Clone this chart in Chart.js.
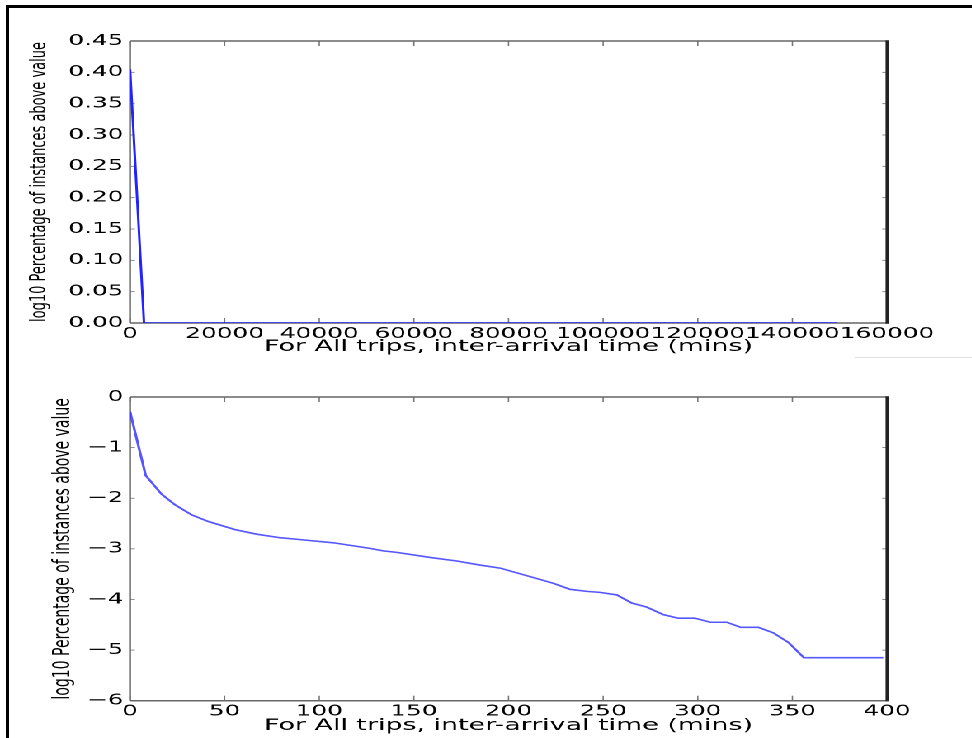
<!DOCTYPE html>
<html>
<head>
<meta charset="utf-8">
<title>Inter-arrival time</title>
<script src="https://cdn.jsdelivr.net/npm/chart.js@4/dist/chart.umd.min.js"></script>
<style>
  body { margin: 0; background: #fff; }
  #frame {
    position: absolute; left: 6px; top: 5px; width: 966px; height: 730px;
    border-top: 3px solid #000; border-left: 3px solid #000; border-bottom: 2px solid #444;
  }
  #sep { position: absolute; left: 855px; top: 357px; width: 117px; height: 1px; background: #e2e2e2; }
  /* the plots are laid out narrow and widened, which gives the broad lettering */
  #wide {
    position: absolute; left: 0; top: 0; width: 589px; height: 738px;
    transform: scaleX(1.65); transform-origin: 0 0;
  }
  #wide canvas { position: absolute; left: 0; }
</style>
</head>
<body>
<div id="frame"></div>
<div id="sep"></div>
<div id="wide">
  <canvas id="topChart" style="top:0"></canvas>
  <canvas id="bottomChart" style="top:360px"></canvas>
</div>
<script>
// full range of inter-arrival times
const topMins = [0, 2960, 149400];
const topLogPct = [0.405, 0, 0];
const topXTicks = [0, 20000, 40000, 60000, 80000, 100000, 120000, 140000, 160000];
const topYTicks = [0, 0.05, 0.10, 0.15, 0.20, 0.25, 0.30, 0.35, 0.40, 0.45];

// zoomed to the first 400 minutes
const bottomMins = [0, 8.3, 16.7, 23.8, 32.6, 41.4, 55.5, 66.9, 79.3, 90.7, 107.4, 126.8, 133.8,
  140.9, 158.5, 172.6, 184.9, 195.5, 207.8, 223.7, 232.5, 241.3, 248.3, 257.2, 265.1, 273,
  281.8, 289.7, 298.5, 306.5, 315.3, 322.7, 332, 339.9, 347.9, 356.1, 398];
const bottomLogPct = [-0.29, -1.55, -1.92, -2.13, -2.33, -2.46, -2.62, -2.71, -2.78, -2.82, -2.88, -2.99, -3.04,
  -3.07, -3.17, -3.24, -3.32, -3.38, -3.51, -3.68, -3.80, -3.84, -3.86, -3.91, -4.07, -4.15,
  -4.30, -4.37, -4.37, -4.45, -4.45, -4.55, -4.55, -4.66, -4.85, -5.15, -5.15];
const bottomXTicks = [0, 50, 100, 150, 200, 250, 300, 350, 400];
const bottomYTicks = [-6, -5, -4, -3, -2, -1, 0];

const xTitle = 'For All trips, inter-arrival time (mins)';
const yTitle = 'log10 Percentage of instances above value';

const FONT = "'DejaVu Sans', sans-serif";

// box round the plot area with inward ticks on every side
const spinePlugin = {
  id: 'spines',
  beforeDatasetsDraw(chart) {
    const {ctx, chartArea: a, scales: {x, y}} = chart;
    const seg = (x1, y1, x2, y2) => { ctx.beginPath(); ctx.moveTo(x1, y1); ctx.lineTo(x2, y2); ctx.stroke(); };
    ctx.save();
    ctx.strokeStyle = '#777';
    ctx.lineWidth = 0.8;
    x.ticks.forEach(t => {
      const px = x.getPixelForValue(t.value);
      seg(px, a.bottom, px, a.bottom - 5);
      seg(px, a.top, px, a.top + 5);
    });
    y.ticks.forEach(t => {
      const py = y.getPixelForValue(t.value);
      seg(a.left, py, a.left + 3, py);
      seg(a.right, py, a.right - 3, py);
    });
    ctx.strokeStyle = '#666';
    ctx.lineWidth = 1.5;
    seg(a.left, a.top, a.right, a.top);
    seg(a.left, a.bottom, a.right, a.bottom);
    ctx.lineWidth = 1.2;
    seg(a.left, a.top, a.left, a.bottom);
    ctx.strokeStyle = '#222';
    ctx.lineWidth = 1.8;
    seg(a.right, a.top - 0.7, a.right, a.bottom + 0.7);
    ctx.restore();
  }
};

function makeChart(id, cfg) {
  const canvas = document.getElementById(id);
  return new Chart(canvas.getContext('2d'), {
    type: 'line',
    data: {
      datasets: [{
        data: cfg.mins.map((m, i) => ({x: m, y: cfg.vals[i]})),
        borderColor: cfg.color,
        borderWidth: cfg.width,
        pointRadius: 0,
        tension: 0,
        fill: false
      }]
    },
    options: {
      responsive: false,
      animation: false,
      devicePixelRatio: 2,
      layout: {padding: {top: cfg.padTop, right: 51.4, left: 0, bottom: 0}},
      plugins: {legend: {display: false}, tooltip: {enabled: false}},
      scales: {
        x: {
          type: 'linear',
          min: cfg.xTicks[0],
          max: cfg.xTicks[cfg.xTicks.length - 1],
          afterBuildTicks: s => { s.ticks = cfg.xTicks.map(v => ({value: v})); },
          afterFit: s => { s.height = cfg.xHeight; },
          grid: {display: false, drawTicks: false},
          border: {display: false},
          ticks: {
            autoSkip: false, maxRotation: 0, minRotation: 0, padding: 2,
            color: '#000', font: {family: FONT, size: 15},
            callback: v => String(v)
          },
          title: {
            display: true, text: xTitle, color: '#000',
            font: {family: FONT, size: 16.3}, padding: {top: 0, bottom: cfg.xTitlePad}
          }
        },
        y: {
          min: cfg.yTicks[0],
          max: cfg.yTicks[cfg.yTicks.length - 1],
          afterBuildTicks: s => { s.ticks = cfg.yTicks.map(v => ({value: v})); },
          afterFit: s => { s.width = 78.8; },
          grid: {display: false, drawTicks: false},
          border: {display: false},
          ticks: {
            padding: 4, color: '#000', font: {family: FONT, size: 15},
            callback: cfg.yLabel
          },
          title: {
            display: true, text: yTitle, color: '#000',
            font: {family: FONT, size: cfg.yTitleSize}, padding: {top: cfg.yTitlePad, bottom: 0}
          }
        }
      }
    },
    plugins: [spinePlugin]
  });
}

document.getElementById('topChart').width = 589;
document.getElementById('topChart').height = 360;
document.getElementById('bottomChart').width = 589;
document.getElementById('bottomChart').height = 378;

makeChart('topChart', {
  mins: topMins, vals: topLogPct, xTicks: topXTicks, yTicks: topYTicks,
  color: '#2323ff', width: 1.5, padTop: 41, xHeight: 37, xTitlePad: 3.4,
  yTitleSize: 13, yTitlePad: 16.4,
  yLabel: v => v.toFixed(2)
});

makeChart('bottomChart', {
  mins: bottomMins, vals: bottomLogPct, xTicks: bottomXTicks, yTicks: bottomYTicks,
  color: 'rgba(45,45,255,0.8)', width: 1.6, padTop: 37, xHeight: 37.3, xTitlePad: 2.4,
  yTitleSize: 14, yTitlePad: 29.8,
  yLabel: v => (v < 0 ? '\u2212' + Math.abs(v) : String(v))
});
</script>
</body>
</html>
